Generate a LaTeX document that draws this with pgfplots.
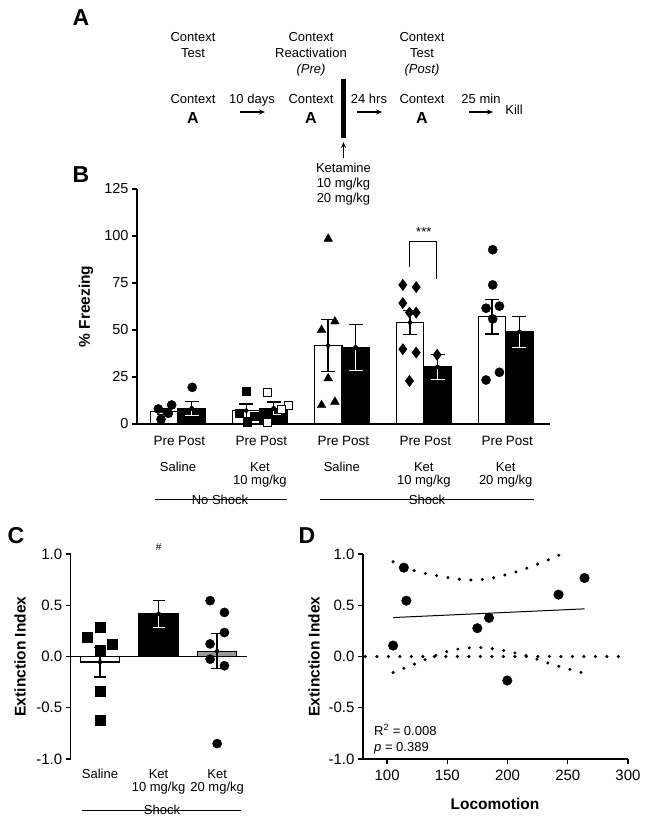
\documentclass[border=0pt]{standalone}
\usepackage{fontspec}
\setmainfont{Liberation Sans}
\usepackage{pgfplots}
\pgfplotsset{compat=1.18}
\usetikzlibrary{arrows.meta}

\newcommand{\fs}[1]{\fontsize{#1}{#1}\selectfont}

\pgfplotsset{
  panel/.style={
    scale only axis, clip=false,
    axis x line*=bottom, axis y line*=left,
    axis line style={line width=1.3pt,-},
    tick align=outside, major tick length=5pt,
    every tick/.style={line width=1.3pt, black},
    /pgf/number format/assume math mode=true,
    tick label style={font=\fs{15}},
    label style={font=\bfseries\fs{15.5}},
  },
  semboth/.style={only marks, mark=none, forget plot,
    error bars/.cd, y dir=both, y explicit,
    error bar style={line width=1.3pt,black},
    error mark options={rotate=90,mark size=#1,line width=1.3pt,black}},
  semup/.style={only marks, mark=none, forget plot,
    error bars/.cd, y dir=plus, y explicit,
    error bar style={line width=1.3pt,black},
    error mark options={rotate=90,mark size=#1,line width=1.3pt,black}},
  semdown/.style={only marks, mark=none, forget plot,
    error bars/.cd, y dir=minus, y explicit,
    error bar style={line width=1.3pt,white},
    error mark options={rotate=90,mark size=#1,line width=1.3pt,white}},
  dots/.style={line width=3.4pt, line cap=round, dash pattern=on 0pt off 11.5pt},
}

\begin{document}
\begin{tikzpicture}
\useasboundingbox (0,0) rectangle (645pt,-822pt);

% ---------- panel A and free text ----------
\begin{scope}[x=1pt,y=-1pt]
  \node[font=\bfseries\fs{23}] at (81,18) {A};
  \node[font=\bfseries\fs{23}] at (81,175) {B};
  \node[font=\bfseries\fs{23}] at (16,536) {C};
  \node[font=\bfseries\fs{23}] at (307,536) {D};

  \begin{scope}[every node/.style={font=\fs{13}, anchor=base, inner sep=0pt}]
    \node at (193,41.7) {Context};
    \node at (193,57.7) {Test};
    \node at (311,41.7) {Context};
    \node at (311,57.7) {Reactivation};
    \node at (311,73.7) {\itshape (Pre)};
    \node at (422,41.7) {Context};
    \node at (422,57.7) {Test};
    \node at (422,73.7) {\itshape (Post)};
    \node at (193,103.7) {Context};
    \node at (252,103.7) {10 days};
    \node at (311,103.7) {Context};
    \node at (369,103.7) {24 hrs};
    \node at (422,103.7) {Context};
    \node at (481,103.7) {25 min};
    \node at (514,114.7) {Kill};
    \node at (343.5,172.7) {Ketamine};
    \node at (343.5,187.7) {10 mg/kg};
    \node at (343.5,202.7) {20 mg/kg};
    \node[font=\bfseries\fs{16}] at (193,123.7) {A};
    \node[font=\bfseries\fs{16}] at (311,123.7) {A};
    \node[font=\bfseries\fs{16}] at (422,123.7) {A};
  \end{scope}
  \begin{scope}[line width=1.2pt, -{Stealth[length=6pt,width=5pt]}]
    \draw (240,112) -- (265,112);
    \draw (357,112) -- (382,112);
    \draw (469,112) -- (493,112);
    \draw (343.5,158) -- (343.5,142);
  \end{scope}
  \fill (341,79) rectangle (346,138);

  % group brackets
  \draw[line width=1pt] (155,499.5) -- (287,499.5);
  \node[font=\fs{13}] at (220,499.5) {No Shock};
  \draw[line width=1pt] (320,499.5) -- (534,499.5);
  \node[font=\fs{13}] at (427,499.5) {Shock};
  \draw[line width=1pt] (82,810) -- (241,810);
  \node[font=\fs{13}] at (162,810) {Shock};

  % R^2 text of panel D
  \node[font=\fs{13}, anchor=base west, inner sep=0pt] at (374,735) {R\textsuperscript{2} = 0.008};
  \node[font=\fs{13}, anchor=base west, inner sep=0pt] at (374,751) {\itshape p\upshape{} = 0.389};
\end{scope}

% ---------- panel B ----------
\begin{axis}[panel, at={(137pt,-424pt)}, anchor=south west,
  width=413pt, height=235pt,
  xmin=-0.5, xmax=4.54, ymin=0, ymax=125,
  ytick={0,25,...,125},
  yticklabel style={font=\fs{14.5}},
  xtick={-0.1675,0.1675,0.8325,1.1675,1.8325,2.1675,2.8325,3.1675,3.8325,4.1675},
  xticklabels={Pre,Post,Pre,Post,Pre,Post,Pre,Post,Pre,Post},
  xtick style={draw=none},
  xticklabel style={font=\fs{13.5}, yshift=-4pt},
  extra x ticks={0,1,2,3,4},
  extra x tick labels={Saline,{Ket\\10 mg/kg},Saline,{Ket\\10 mg/kg},{Ket\\20 mg/kg}},
  extra x tick style={xticklabel style={yshift=-26pt, align=center, font=\fs{13}}},
  ylabel={\% Freezing},
  ylabel style={at={(axis description cs:-0.1235,0.5)}, anchor=center},
]
% Pre bars (white)
\addplot[ybar, bar width=0.335, bar shift=0pt, fill=white, draw=black, line width=1.3pt]
  coordinates {(-0.1675,6.5) (0.8325,7.1) (1.8325,41.7) (2.8325,54.0) (3.8325,57.0)};
\addplot[semboth=7pt] coordinates {
  (-0.1675,6.5) +- (0,1.5) (0.8325,7.1) +- (0,3.5) (1.8325,41.7) +- (0,13.8)
  (2.8325,54.0) +- (0,6.4) (3.8325,57.0) +- (0,9.2)};
% Post bars (black)
\addplot[ybar, bar width=0.335, bar shift=0pt, fill=black, draw=black, line width=1.3pt]
  coordinates {(0.1675,8.3) (1.1675,8.3) (2.1675,40.7) (3.1675,30.4) (4.1675,49.0)};
\addplot[semup=7pt] coordinates {
  (0.1675,8.3) +- (0,3.6) (1.1675,8.3) +- (0,3.4) (2.1675,40.7) +- (0,12.2)
  (3.1675,30.4) +- (0,6.6) (4.1675,49.0) +- (0,8.3)};
\addplot[semdown=7pt] coordinates {
  (0.1675,8.3) +- (0,3.6) (1.1675,8.3) +- (0,3.4) (2.1675,40.7) +- (0,12.2)
  (3.1675,30.4) +- (0,6.6) (4.1675,49.0) +- (0,8.3)};
% individual animals
\addplot[only marks, mark=*, mark size=4.6pt, black] coordinates {
  (-0.240,8.0) (-0.077,10.1) (-0.118,5.7) (-0.207,2.5) (0.174,19.5)};
\addplot[only marks, mark=square*, mark size=4pt, black] coordinates {
  (0.838,17.7) (0.748,5.7) (0.927,3.9) (0.845,0.9) (1.100,5.5)};
\addplot[only marks, mark=square*, mark size=4pt, black, mark options={fill=white}] coordinates {
  (1.094,16.8) (1.345,10.1) (1.094,1.2) (1.265,7.8)};
\addplot[only marks, mark=triangle*, mark size=5pt, black] coordinates {
  (1.833,98.5) (1.752,50.0) (1.915,54.5) (1.833,24.3) (1.752,10.0) (1.915,11.8)};
\addplot[only marks, mark=diamond*, mark size=5.6pt, black] coordinates {
  (2.744,74.0) (2.907,72.8) (2.744,64.3) (2.825,59.3) (2.907,59.3)
  (2.744,39.8) (2.907,38.0) (2.825,22.9) (3.163,36.8)};
\addplot[only marks, mark=*, mark size=4.6pt, black] coordinates {
  (3.841,92.7) (3.841,74.0) (3.760,61.6) (3.923,62.7) (3.841,55.9) (3.760,23.4) (3.923,27.5)};
\draw[line width=1.3pt] (axis cs:2.826,83.7) |- (axis cs:3.159,97) -- (axis cs:3.159,77);
\node[font=\fs{13}] at (axis cs:3,102) {***};
\end{axis}

% ---------- panel C ----------
\begin{axis}[panel, at={(70.7pt,-759pt)}, anchor=south west,
  width=176.3pt, height=205pt,
  xmin=-0.5, xmax=2.51, ymin=-1, ymax=1,
  ytick={-1,-0.5,0,0.5,1},
  yticklabel style={/pgf/number format/.cd, fixed, fixed zerofill, precision=1},
  xtick={0,1,2},
  xticklabels={Saline,{Ket\\10 mg/kg},{Ket\\20 mg/kg}},
  xticklabel style={align=center, font=\fs{13}, yshift=-2pt},
  x axis line style={draw=none}, xtick style={draw=none},
  ylabel={Extinction Index},
  ylabel style={at={(axis description cs:-0.2876,0.5)}, anchor=center},
]
\addplot[ybar, bar width=0.667, bar shift=0pt, fill=white, draw=black, line width=1.3pt]
  coordinates {(0,-0.055)};
\addplot[ybar, bar width=0.667, bar shift=0pt, fill=black, draw=black, line width=1.3pt]
  coordinates {(1,0.416)};
\addplot[ybar, bar width=0.667, bar shift=0pt, fill=black!40, draw=black, line width=1.3pt]
  coordinates {(2,0.052)};
\draw[line width=1.3pt] (axis cs:-0.5,0) -- (axis cs:2.51,0);
\addplot[semboth=6pt] coordinates {(0,-0.055) +- (0,0.144) (2,0.052) +- (0,0.172)};
\addplot[semup=6pt] coordinates {(1,0.416) +- (0,0.13)};
\addplot[semdown=6pt] coordinates {(1,0.416) +- (0,0.13)};
\addplot[only marks, mark=square*, mark size=5pt, black] coordinates {
  (-0.21,0.19) (0,0.286) (0.217,0.123) (0,0.065) (0,-0.334) (0,-0.617)};
\addplot[only marks, mark=*, mark size=4.6pt, black] coordinates {
  (1.88,0.545) (2.125,0.43) (2.125,0.234) (1.88,0.123) (1.88,-0.026) (2.125,-0.09) (2.0,-0.85)};
\node[font=\fs{10}] at (axis cs:1,1.07) {\#};
\end{axis}

% ---------- panel D ----------
\begin{axis}[panel, at={(363pt,-759pt)}, anchor=south west,
  width=265pt, height=205pt,
  xmin=80, xmax=300, ymin=-1, ymax=1,
  xtick={100,150,...,300},
  ytick={-1,-0.5,0,0.5,1},
  yticklabel style={/pgf/number format/.cd, fixed, fixed zerofill, precision=1},
  xticklabel style={yshift=-2pt},
  xlabel={Locomotion},
  xlabel style={at={(axis description cs:0.498,-0.2195)}, anchor=center},
  ylabel={Extinction Index},
  ylabel style={at={(axis description cs:-0.185,0.5)}, anchor=center},
]
\addplot[dots] coordinates {(82,0) (300,0)};
\addplot[dots, smooth] coordinates {
  (105,0.925) (116,0.86) (132,0.81) (149,0.773) (166,0.747) (183,0.757)
  (205,0.818) (227,0.91) (245,1.0)};
\addplot[dots, smooth] coordinates {
  (105,-0.156) (121.6,-0.08) (138,0.0) (155,0.065) (176,0.088) (194,0.065)
  (216,0.006) (238,-0.08) (263,-0.162)};
\addplot[line width=1pt] coordinates {(105,0.38) (264,0.465)};
\addplot[only marks, mark=*, mark size=4.8pt, black] coordinates {
  (105,0.107) (113.9,0.867) (116,0.545) (174.9,0.276) (184.6,0.377)
  (199.8,-0.234) (242.3,0.604) (263.9,0.766)};
\end{axis}
\end{tikzpicture}
\end{document}
